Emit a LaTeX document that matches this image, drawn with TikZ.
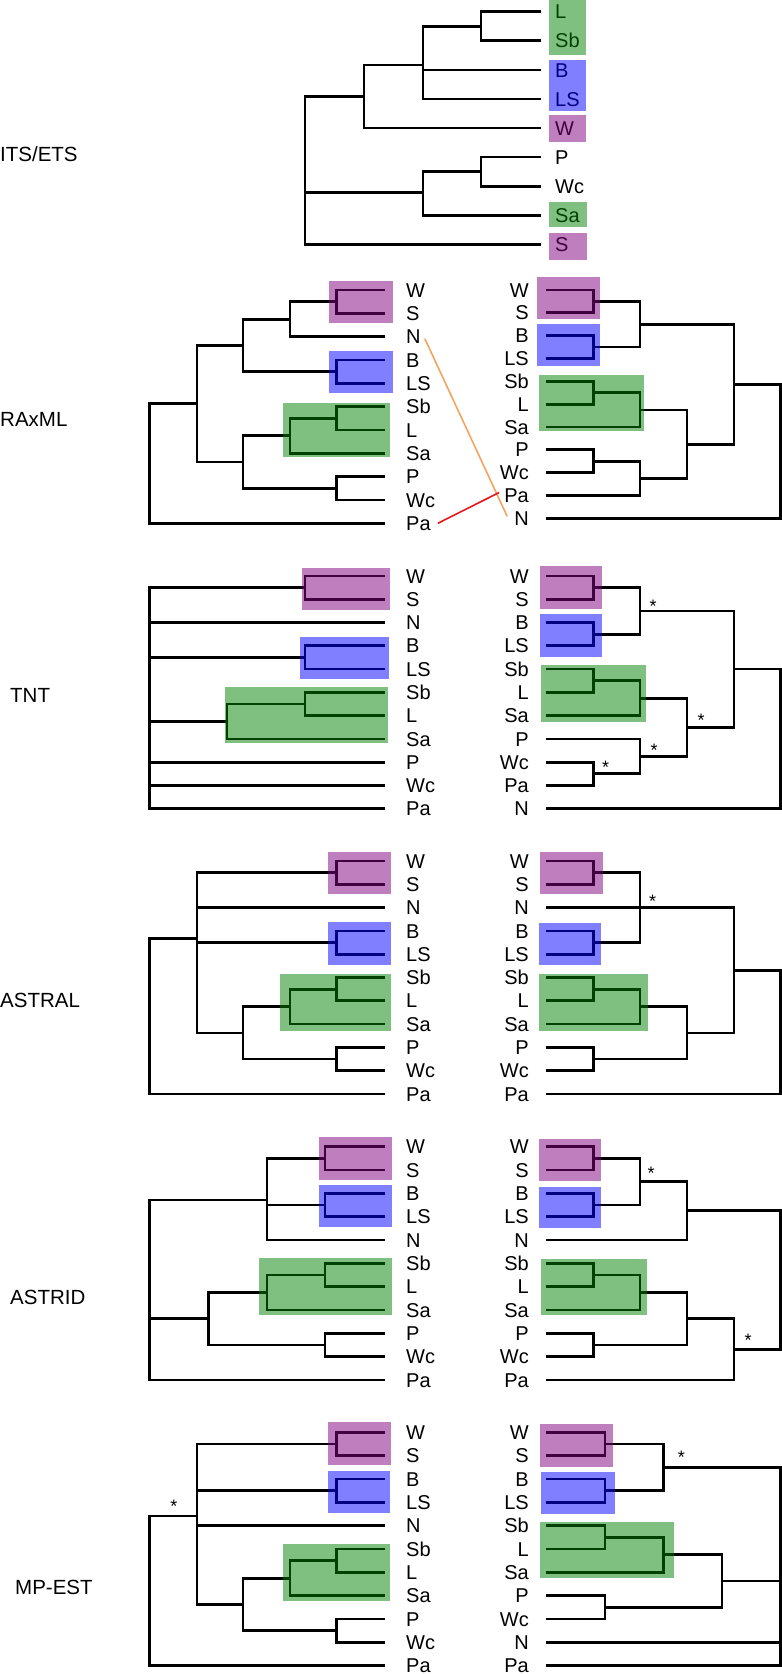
\documentclass[tikz,border=0pt]{standalone}
\usepackage{fontspec}
\setmainfont{Liberation Sans}
\usetikzlibrary{positioning, calc}
\definecolor{morado}{HTML}{800080}
\definecolor{azul}{HTML}{0000FF}
\definecolor{verde}{HTML}{008000}
\definecolor{naranja}{HTML}{F4A460}
\definecolor{rojo}{HTML}{E8161B}
\tikzset{
  rama/.style={line width=2.7pt, color=black},
  hoja/.style={inner sep=0pt, font=\fontsize{20}{20}\selectfont, text height=14.3pt, text depth=0pt},
  hojaiz/.style={hoja, anchor=west},
  hojade/.style={hoja, anchor=east},
  titulo/.style={inner sep=0pt, anchor=west, font=\fontsize{20.5}{20.5}\selectfont, text height=14.7pt, text depth=0pt},
  estrella/.style={inner sep=0pt, font=\fontsize{18}{18}\selectfont},
  caja/.style={draw=none, fill opacity=0.5},
  cajam/.style={caja, fill=morado},
  cajaa/.style={caja, fill=azul},
  cajav/.style={caja, fill=verde},
  cruce/.style={line width=1.6pt}
}

\begin{document}
\begin{tikzpicture}[x=1pt, y=-1pt]
  \useasboundingbox (0,0) rectangle (782,1674);

  % ---------------- ITS/ETS
  \node (its-tit) [titulo] at (0,154) {ITS/ETS};
  \foreach \n/\y in {L/11.7, Sb/40.8, B/69.9, LS/98.9, W/128.0, P/157.1, Wc/186.2, Sa/215.3, S/244.3} {
    \coordinate (its-\n) at (541,\y);
    \node (its-\n-t) [hojaiz] at (555,\y) {\n};
  }
  \coordinate (its-a) at (481,26.2);
  \coordinate (its-b) at (423,65);
  \coordinate (its-c) at (364,96.7);
  \coordinate (its-d) at (481,171.6);
  \coordinate (its-e) at (423,192.7);
  \coordinate (its-r) at (305,170);
  \draw [rama] (its-a) |- (its-L) (its-a) |- (its-Sb)
    (its-b) |- (its-a) (its-b) |- (its-B) (its-b) |- (its-LS)
    (its-c) |- (its-b) (its-c) |- (its-W)
    (its-d) |- (its-P) (its-d) |- (its-Wc)
    (its-e) |- (its-d) (its-e) |- (its-Sa)
    (its-r) |- (its-c) (its-r) |- (its-e) (its-r) |- (its-S);
  \fill [cajav] (549,0) rectangle (586,55);
  \fill [cajaa] (549,60) rectangle (586,110.7);
  \fill [cajam] (549,115) rectangle (586,141.7);
  \fill [cajav] (549,201.7) rectangle (587,227.3);
  \fill [cajam] (549,233) rectangle (587,260);

  % ---------------- RAxML
  \node (ra-tit) [titulo] at (0,419) {RAxML};
  \foreach \n/\y in {W/290, S/313.3, N/336.7, B/360, LS/383.3, Sb/406.7, L/430, Sa/453.3, P/476.7, Wc/500, Pa/523.3} {
    \coordinate (raL-\n) at (385,\y);
    \node (raL-\n-t) [hojaiz] at (406,\y) {\n};
  }
  \foreach \n/\y in {W/290, S/312.8, B/335.7, LS/358.5, Sb/381.3, L/404.2, Sa/427, P/449.8, Wc/472.7, Pa/495.5, N/518.3} {
    \coordinate (raR-\n) at (546,\y);
    \node (raR-\n-t) [hojade] at (529,\y) {\n};
  }
  \coordinate (raL-a) at (336.7,301.7);
  \coordinate (raL-b) at (290,319.2);
  \coordinate (raL-c) at (336.7,371.7);
  \coordinate (raL-d) at (243,345.5);
  \coordinate (raL-e) at (336.7,418.3);
  \coordinate (raL-f) at (290,435.8);
  \coordinate (raL-g) at (336.7,488.3);
  \coordinate (raL-h) at (243,462);
  \coordinate (raL-i) at (197,403.8);
  \coordinate (raL-r) at (149.6,463.5);
  \draw [rama] (raL-a) |- (raL-W) (raL-a) |- (raL-S)
    (raL-b) |- (raL-a) (raL-b) |- (raL-N)
    (raL-c) |- (raL-B) (raL-c) |- (raL-LS)
    (raL-d) |- (raL-b) (raL-d) |- (raL-c)
    (raL-e) |- (raL-Sb) (raL-e) |- (raL-L)
    (raL-f) |- (raL-e) (raL-f) |- (raL-Sa)
    (raL-g) |- (raL-P) (raL-g) |- (raL-Wc)
    (raL-h) |- (raL-f) (raL-h) |- (raL-g)
    (raL-i) |- (raL-d) (raL-i) |- (raL-h)
    (raL-r) |- (raL-i) (raL-r) |- (raL-Pa);
  \coordinate (raR-a) at (593.5,301.4);
  \coordinate (raR-b) at (593.5,347.1);
  \coordinate (raR-c) at (640,324.3);
  \coordinate (raR-d) at (593.5,392.8);
  \coordinate (raR-e) at (640,409.9);
  \coordinate (raR-f) at (593.5,461.3);
  \coordinate (raR-g) at (640,478.4);
  \coordinate (raR-h) at (687,444.2);
  \coordinate (raR-i) at (734,384.2);
  \coordinate (raR-r) at (780.5,451);
  \draw [rama] (raR-a) |- (raR-W) (raR-a) |- (raR-S)
    (raR-b) |- (raR-B) (raR-b) |- (raR-LS)
    (raR-c) |- (raR-a) (raR-c) |- (raR-b)
    (raR-d) |- (raR-Sb) (raR-d) |- (raR-L)
    (raR-e) |- (raR-d) (raR-e) |- (raR-Sa)
    (raR-f) |- (raR-P) (raR-f) |- (raR-Wc)
    (raR-g) |- (raR-f) (raR-g) |- (raR-Pa)
    (raR-h) |- (raR-e) (raR-h) |- (raR-g)
    (raR-i) |- (raR-c) (raR-i) |- (raR-h)
    (raR-r) |- (raR-i) (raR-r) |- (raR-N);
  \fill [cajam] (329,280.7) rectangle (392.5,322.7);
  \fill [cajaa] (329,350.7) rectangle (392.5,393.3);
  \fill [cajav] (283,402.7) rectangle (390,457.3);
  \fill [cajam] (537,277) rectangle (599.5,319.3);
  \fill [cajaa] (537,324) rectangle (599.5,366);
  \fill [cajav] (538.6,375) rectangle (644.4,430.7);
  \draw [cruce, naranja] ($(raL-N-t.east)+(4,2)$) -- ($(raR-N-t.west)+(-7,-2)$);
  \draw [cruce, rojo] ($(raL-Pa-t.east)+(7,0)$) -- ($(raR-Pa-t.west)+(-5,-3)$);

  % ---------------- TNT
  \node (tn-tit) [titulo] at (10,695) {TNT};
  \foreach \n/\y in {W/576, S/599.3, N/622.5, B/645.8, LS/669.1, Sb/692.4, L/715.6, Sa/738.9, P/762.2, Wc/785.4, Pa/808.7} {
    \coordinate (tnL-\n) at (385,\y);
    \node (tnL-\n-t) [hojaiz] at (406,\y) {\n};
  }
  \foreach \n/\y in {W/576, S/599.3, B/622.5, LS/645.8, Sb/669.1, L/692.4, Sa/715.6, P/738.9, Wc/762.2, Pa/785.4, N/808.7} {
    \coordinate (tnR-\n) at (546,\y);
    \node (tnR-\n-t) [hojade] at (529,\y) {\n};
  }
  \coordinate (tnL-a) at (305,587.7);
  \coordinate (tnL-b) at (305,657.5);
  \coordinate (tnL-c) at (305,704);
  \coordinate (tnL-d) at (227,721.5);
  \coordinate (tnL-r) at (149.6,700);
  \draw [rama] (tnL-a) |- (tnL-W) (tnL-a) |- (tnL-S)
    (tnL-b) |- (tnL-B) (tnL-b) |- (tnL-LS)
    (tnL-c) |- (tnL-Sb) (tnL-c) |- (tnL-L)
    (tnL-d) |- (tnL-c) (tnL-d) |- (tnL-Sa)
    (tnL-r) |- (tnL-a) (tnL-r) |- (tnL-N) (tnL-r) |- (tnL-b) (tnL-r) |- (tnL-d)
    (tnL-r) |- (tnL-P) (tnL-r) |- (tnL-Wc) (tnL-r) |- (tnL-Pa);
  \coordinate (tnR-a) at (593.5,587.7);
  \coordinate (tnR-b) at (593.5,634.2);
  \coordinate (tnR-c) at (640,610.9);
  \coordinate (tnR-d) at (593.5,680.7);
  \coordinate (tnR-e) at (640,698.2);
  \coordinate (tnR-f) at (593.5,773.8);
  \coordinate (tnR-g) at (640,756.4);
  \coordinate (tnR-h) at (687,727.3);
  \coordinate (tnR-i) at (734,669.1);
  \coordinate (tnR-r) at (780.5,740);
  \draw [rama] (tnR-a) |- (tnR-W) (tnR-a) |- (tnR-S)
    (tnR-b) |- (tnR-B) (tnR-b) |- (tnR-LS)
    (tnR-c) |- (tnR-a) (tnR-c) |- (tnR-b)
    (tnR-d) |- (tnR-Sb) (tnR-d) |- (tnR-L)
    (tnR-e) |- (tnR-d) (tnR-e) |- (tnR-Sa)
    (tnR-f) |- (tnR-Wc) (tnR-f) |- (tnR-Pa)
    (tnR-g) |- (tnR-P) (tnR-g) |- (tnR-f)
    (tnR-h) |- (tnR-e) (tnR-h) |- (tnR-g)
    (tnR-i) |- (tnR-c) (tnR-i) |- (tnR-h)
    (tnR-r) |- (tnR-i) (tnR-r) |- (tnR-N);
  \node (tnR-sc) [estrella] at ($(tnR-c)+(13,-5)$) {*};
  \node (tnR-sf) [estrella] at ($(tnR-f)+(12,-7)$) {*};
  \node (tnR-sg) [estrella] at ($(tnR-g)+(14,-6)$) {*};
  \node (tnR-sh) [estrella] at ($(tnR-h)+(14,-7)$) {*};
  \fill [cajam] (301.7,567.7) rectangle (390,610);
  \fill [cajaa] (300,637.3) rectangle (389,679.3);
  \fill [cajav] (225.4,687.3) rectangle (387.5,743.3);
  \fill [cajam] (539.6,566) rectangle (602,609);
  \fill [cajaa] (539.6,614) rectangle (602,656.7);
  \fill [cajav] (541,665) rectangle (646,721.7);

  % ---------------- ASTRAL
  \node (as-tit) [titulo] at (0,1000) {ASTRAL};
  \foreach \n/\y in {W/861, S/884.3, N/907.6, B/930.9, LS/954.2, Sb/977.5, L/1000.8, Sa/1024.1, P/1047.4, Wc/1070.7, Pa/1094} {
    \coordinate (asL-\n) at (385,\y);
    \node (asL-\n-t) [hojaiz] at (406,\y) {\n};
    \coordinate (asR-\n) at (546,\y);
    \node (asR-\n-t) [hojade] at (529,\y) {\n};
  }
  \coordinate (asL-a) at (336.7,872.7);
  \coordinate (asL-b) at (336.7,942.6);
  \coordinate (asL-c) at (336.7,989.2);
  \coordinate (asL-d) at (290,1006.7);
  \coordinate (asL-e) at (336.7,1059.1);
  \coordinate (asL-f) at (243,1032.9);
  \coordinate (asL-g) at (197,938.3);
  \coordinate (asL-r) at (149.6,1000);
  \draw [rama] (asL-a) |- (asL-W) (asL-a) |- (asL-S)
    (asL-b) |- (asL-B) (asL-b) |- (asL-LS)
    (asL-c) |- (asL-Sb) (asL-c) |- (asL-L)
    (asL-d) |- (asL-c) (asL-d) |- (asL-Sa)
    (asL-e) |- (asL-P) (asL-e) |- (asL-Wc)
    (asL-f) |- (asL-d) (asL-f) |- (asL-e)
    (asL-g) |- (asL-a) (asL-g) |- (asL-N) (asL-g) |- (asL-b) (asL-g) |- (asL-f)
    (asL-r) |- (asL-g) (asL-r) |- (asL-Pa);
  \coordinate (asR-a) at (593.5,872.7);
  \coordinate (asR-b) at (593.5,942.6);
  \coordinate (asR-c) at (640,907.6);
  \coordinate (asR-e) at (593.5,989.2);
  \coordinate (asR-f) at (640,1006.7);
  \coordinate (asR-g) at (593.5,1059.1);
  \coordinate (asR-h) at (687,1032.9);
  \coordinate (asR-d) at (734,970.3);
  \coordinate (asR-r) at (780.5,1030);
  \draw [rama] (asR-a) |- (asR-W) (asR-a) |- (asR-S)
    (asR-b) |- (asR-B) (asR-b) |- (asR-LS)
    (asR-c) |- (asR-a) (asR-c) |- (asR-b)
    (asR-e) |- (asR-Sb) (asR-e) |- (asR-L)
    (asR-f) |- (asR-e) (asR-f) |- (asR-Sa)
    (asR-g) |- (asR-P) (asR-g) |- (asR-Wc)
    (asR-h) |- (asR-f) (asR-h) |- (asR-g)
    (asR-d) |- (asR-c) (asR-d) |- (asR-N) (asR-d) |- (asR-h)
    (asR-r) |- (asR-d) (asR-r) |- (asR-Pa);
  \node (asR-sc) [estrella] at ($(asR-c)+(12.5,-6)$) {*};
  \fill [cajam] (327.7,852.3) rectangle (390.5,894.3);
  \fill [cajaa] (328,922.3) rectangle (390.5,965);
  \fill [cajav] (280,974) rectangle (390.5,1030.7);
  \fill [cajam] (540,852.3) rectangle (602.5,894);
  \fill [cajaa] (538.6,922.7) rectangle (601,965);
  \fill [cajav] (538.6,974) rectangle (648.4,1030.7);

  % ---------------- ASTRID
  \node (ad-tit) [titulo] at (10,1297) {ASTRID};
  \foreach \n/\y in {W/1146.7, S/1170, B/1193.3, LS/1216.7, N/1240, Sb/1263.3, L/1286.7, Sa/1310, P/1333.3, Wc/1356.7, Pa/1380} {
    \coordinate (adL-\n) at (385,\y);
    \node (adL-\n-t) [hojaiz] at (406,\y) {\n};
    \coordinate (adR-\n) at (546,\y);
    \node (adR-\n-t) [hojade] at (529,\y) {\n};
  }
  \coordinate (adL-a) at (325,1158.3);
  \coordinate (adL-b) at (325,1205);
  \coordinate (adL-c) at (267,1200);
  \coordinate (adL-d) at (325,1275);
  \coordinate (adL-e) at (267,1292.5);
  \coordinate (adL-f) at (325,1345);
  \coordinate (adL-g) at (208.5,1318.7);
  \coordinate (adL-r) at (149.6,1300);
  \draw [rama] (adL-a) |- (adL-W) (adL-a) |- (adL-S)
    (adL-b) |- (adL-B) (adL-b) |- (adL-LS)
    (adL-c) |- (adL-a) (adL-c) |- (adL-b) (adL-c) |- (adL-N)
    (adL-d) |- (adL-Sb) (adL-d) |- (adL-L)
    (adL-e) |- (adL-d) (adL-e) |- (adL-Sa)
    (adL-f) |- (adL-P) (adL-f) |- (adL-Wc)
    (adL-g) |- (adL-e) (adL-g) |- (adL-f)
    (adL-r) |- (adL-c) (adL-r) |- (adL-g) (adL-r) |- (adL-Pa);
  \coordinate (adR-a) at (593.5,1158.3);
  \coordinate (adR-b) at (593.5,1205);
  \coordinate (adR-c) at (640,1181.7);
  \coordinate (adR-d) at (687,1210.8);
  \coordinate (adR-e) at (593.5,1275);
  \coordinate (adR-f) at (640,1292.5);
  \coordinate (adR-g) at (593.5,1345);
  \coordinate (adR-h) at (687,1318.7);
  \coordinate (adR-i) at (734,1349.3);
  \coordinate (adR-r) at (780.5,1280);
  \draw [rama] (adR-a) |- (adR-W) (adR-a) |- (adR-S)
    (adR-b) |- (adR-B) (adR-b) |- (adR-LS)
    (adR-c) |- (adR-a) (adR-c) |- (adR-b)
    (adR-d) |- (adR-c) (adR-d) |- (adR-N)
    (adR-e) |- (adR-Sb) (adR-e) |- (adR-L)
    (adR-f) |- (adR-e) (adR-f) |- (adR-Sa)
    (adR-g) |- (adR-P) (adR-g) |- (adR-Wc)
    (adR-h) |- (adR-f) (adR-h) |- (adR-g)
    (adR-i) |- (adR-h) (adR-i) |- (adR-Pa)
    (adR-r) |- (adR-d) (adR-r) |- (adR-i);
  \node (adR-sc) [estrella] at ($(adR-c)+(11,-8)$) {*};
  \node (adR-si) [estrella] at ($(adR-i)+(14,-9)$) {*};
  \fill [cajam] (319,1137.3) rectangle (391.5,1180);
  \fill [cajaa] (319,1185) rectangle (391.5,1227.3);
  \fill [cajav] (259.4,1258.3) rectangle (391.5,1315);
  \fill [cajam] (538.6,1139) rectangle (601,1181);
  \fill [cajaa] (538.6,1186.7) rectangle (601,1228.3);
  \fill [cajav] (541,1259) rectangle (647.4,1315);

  % ---------------- MP-EST
  \node (mp-tit) [titulo] at (15,1587) {MP-EST};
  \foreach \n/\y in {W/1432.3, S/1455.6, B/1479, LS/1502.3, N/1525.7, Sb/1549, L/1572.3, Sa/1595.7, P/1619, Wc/1642.4, Pa/1665.7} {
    \coordinate (mpL-\n) at (385,\y);
    \node (mpL-\n-t) [hojaiz] at (406,\y) {\n};
  }
  \foreach \n/\y in {W/1432.3, S/1455.6, B/1479, LS/1502.3, Sb/1525.7, L/1549, Sa/1572.3, P/1595.7, Wc/1619, N/1642.4, Pa/1665.7} {
    \coordinate (mpR-\n) at (546,\y);
    \node (mpR-\n-t) [hojade] at (529,\y) {\n};
  }
  \coordinate (mpL-a) at (336.7,1444);
  \coordinate (mpL-b) at (336.7,1490.7);
  \coordinate (mpL-c) at (336.7,1560.7);
  \coordinate (mpL-d) at (290,1578.2);
  \coordinate (mpL-e) at (336.7,1630.7);
  \coordinate (mpL-f) at (243,1604.4);
  \coordinate (mpL-g) at (197,1516);
  \coordinate (mpL-r) at (149.6,1600);
  \draw [rama] (mpL-a) |- (mpL-W) (mpL-a) |- (mpL-S)
    (mpL-b) |- (mpL-B) (mpL-b) |- (mpL-LS)
    (mpL-c) |- (mpL-Sb) (mpL-c) |- (mpL-L)
    (mpL-d) |- (mpL-c) (mpL-d) |- (mpL-Sa)
    (mpL-e) |- (mpL-P) (mpL-e) |- (mpL-Wc)
    (mpL-f) |- (mpL-d) (mpL-f) |- (mpL-e)
    (mpL-g) |- (mpL-a) (mpL-g) |- (mpL-b) (mpL-g) |- (mpL-N) (mpL-g) |- (mpL-f)
    (mpL-r) |- (mpL-g) (mpL-r) |- (mpL-Pa);
  \node (mpL-sg) [estrella] at ($(mpL-g)+(-23,-10)$) {*};
  \coordinate (mpR-a) at (605,1444);
  \coordinate (mpR-b) at (605,1490.7);
  \coordinate (mpR-c) at (663.3,1467.3);
  \coordinate (mpR-d) at (605,1537.3);
  \coordinate (mpR-e) at (663.3,1554.8);
  \coordinate (mpR-f) at (605,1607.3);
  \coordinate (mpR-g) at (722,1581);
  \coordinate (mpR-r) at (780.5,1560);
  \draw [rama] (mpR-a) |- (mpR-W) (mpR-a) |- (mpR-S)
    (mpR-b) |- (mpR-B) (mpR-b) |- (mpR-LS)
    (mpR-c) |- (mpR-a) (mpR-c) |- (mpR-b)
    (mpR-d) |- (mpR-Sb) (mpR-d) |- (mpR-L)
    (mpR-e) |- (mpR-d) (mpR-e) |- (mpR-Sa)
    (mpR-f) |- (mpR-P) (mpR-f) |- (mpR-Wc)
    (mpR-g) |- (mpR-e) (mpR-g) |- (mpR-f)
    (mpR-r) |- (mpR-c) (mpR-r) |- (mpR-g) (mpR-r) |- (mpR-N) (mpR-r) |- (mpR-Pa);
  \node (mpR-sc) [estrella] at ($(mpR-c)+(18,-10)$) {*};
  \fill [cajam] (327.7,1422.3) rectangle (390.5,1465);
  \fill [cajaa] (327.7,1470.7) rectangle (390,1512.7);
  \fill [cajav] (282.8,1544.3) rectangle (390,1600.7);
  \fill [cajam] (540,1424.3) rectangle (612.5,1466.7);
  \fill [cajaa] (541,1472.3) rectangle (614.5,1514.3);
  \fill [cajav] (540,1521.7) rectangle (674.3,1577.7);
\end{tikzpicture}
\end{document}
